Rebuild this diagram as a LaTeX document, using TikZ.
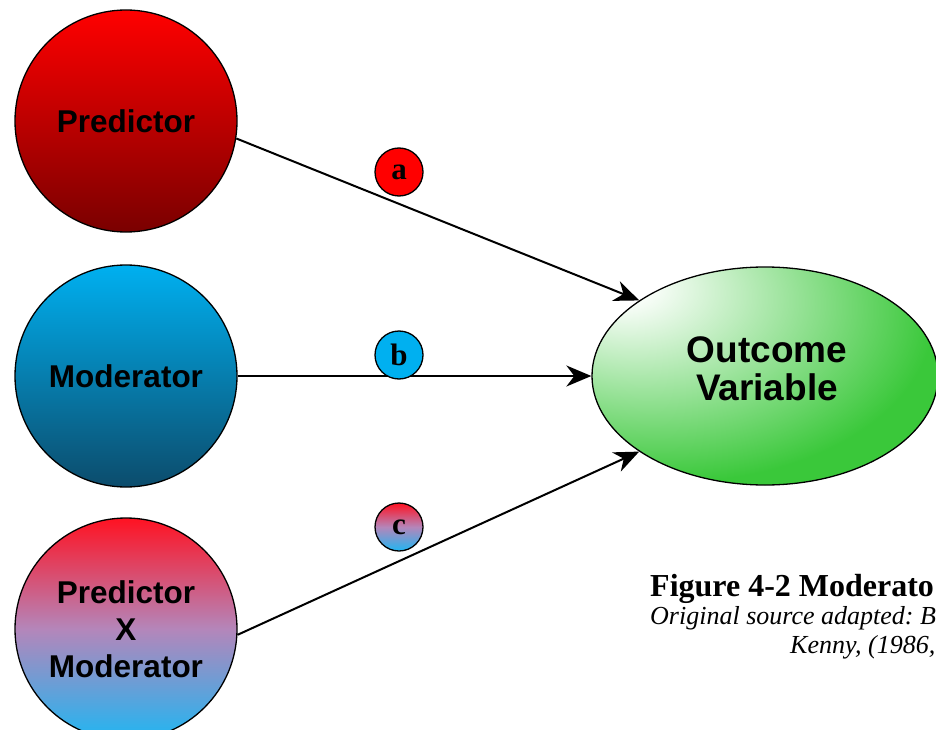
\documentclass[tikz,border=0pt]{standalone}
\usepackage{fontspec}
\setmainfont{Liberation Serif}
\setsansfont{Liberation Sans}
\usetikzlibrary{shapes.geometric,arrows.meta}

% colours of the model
\definecolor{predTop}{RGB}{255,0,0}
\definecolor{predBot}{RGB}{122,0,0}
\definecolor{modTop}{RGB}{0,176,240}
\definecolor{modBot}{RGB}{12,76,108}
\definecolor{mixTop}{RGB}{255,18,34}
\definecolor{mixMid}{RGB}{180,134,186}
\definecolor{mixBot}{RGB}{32,182,242}
\definecolor{outGreen}{RGB}{58,200,58}

% soft glow from the upper left of the outcome ellipse
\pgfdeclareradialshading{outcomeglow}{\pgfpoint{-22bp}{22bp}}{%
  color(0bp)=(white); color(5bp)=(white!96!outGreen);
  color(38bp)=(outGreen); color(100bp)=(outGreen)}

\tikzset{
  var/.style={circle, draw=black, line width=1.3pt, minimum size=222pt,
    inner sep=0pt, align=center,
    font=\sffamily\bfseries\fontsize{31.5}{37}\selectfont},
  path coef/.style={circle, draw=black, line width=1.3pt, minimum size=48pt,
    inner sep=0pt, font=\bfseries\fontsize{31}{32}\selectfont},
  blend/.style={top color=mixTop, bottom color=mixBot, middle color=mixMid},
  effect/.style={line width=2pt, -{Stealth[length=25pt,width=21pt,inset=8pt]}},
  caption/.style={anchor=base west, inner sep=0pt}
}

\begin{document}
\frenchspacing
\begin{tikzpicture}[x=1pt,y=-1pt]
\clip (0,0) rectangle (936,730);
\fill[white] (0,0) rectangle (936,730);

% the three predictors
\node[var, top color=predTop, bottom color=predBot] (pred) at (126,121) {Predictor};
\node[var, top color=modTop, bottom color=modBot] (mod) at (126,376) {Moderator};
\node[var, blend] (inter) at (126,629) {Predictor\\X\\Moderator};

% the outcome
\node[ellipse, draw=black, line width=1.3pt, minimum width=346pt, minimum height=218pt,
  inner sep=0pt, shading=outcomeglow] (out) at (765,376) {};
\node[align=center, font=\sffamily\bfseries\fontsize{37}{38}\selectfont] (outtext)
  at (767,369) {Outcome\\Variable};

% effects
\draw[effect] (pred.-9) -- (out.149);
\draw[effect] (mod.east) -- (out.west);
\draw[effect] (inter.-3) -- (out.211);

% path coefficients
\node[path coef, fill=predTop] (a) at (399,172) {a};
\node[path coef, fill=modTop] (b) at (399,355) {b};
\node[path coef, blend] (c) at (399,527) {c};

% caption
\node[caption, font=\bfseries\fontsize{32}{36}\selectfont] (cap1) at (650,596) {Figure 4-2 Moderato};
\node[caption, font=\itshape\fontsize{26}{28}\selectfont] (cap2) at (650,624) {Original source adapted: B};
\node[caption, font=\itshape\fontsize{26}{28}\selectfont] (cap3) at (790,653) {Kenny, (1986,};
\end{tikzpicture}
\end{document}
